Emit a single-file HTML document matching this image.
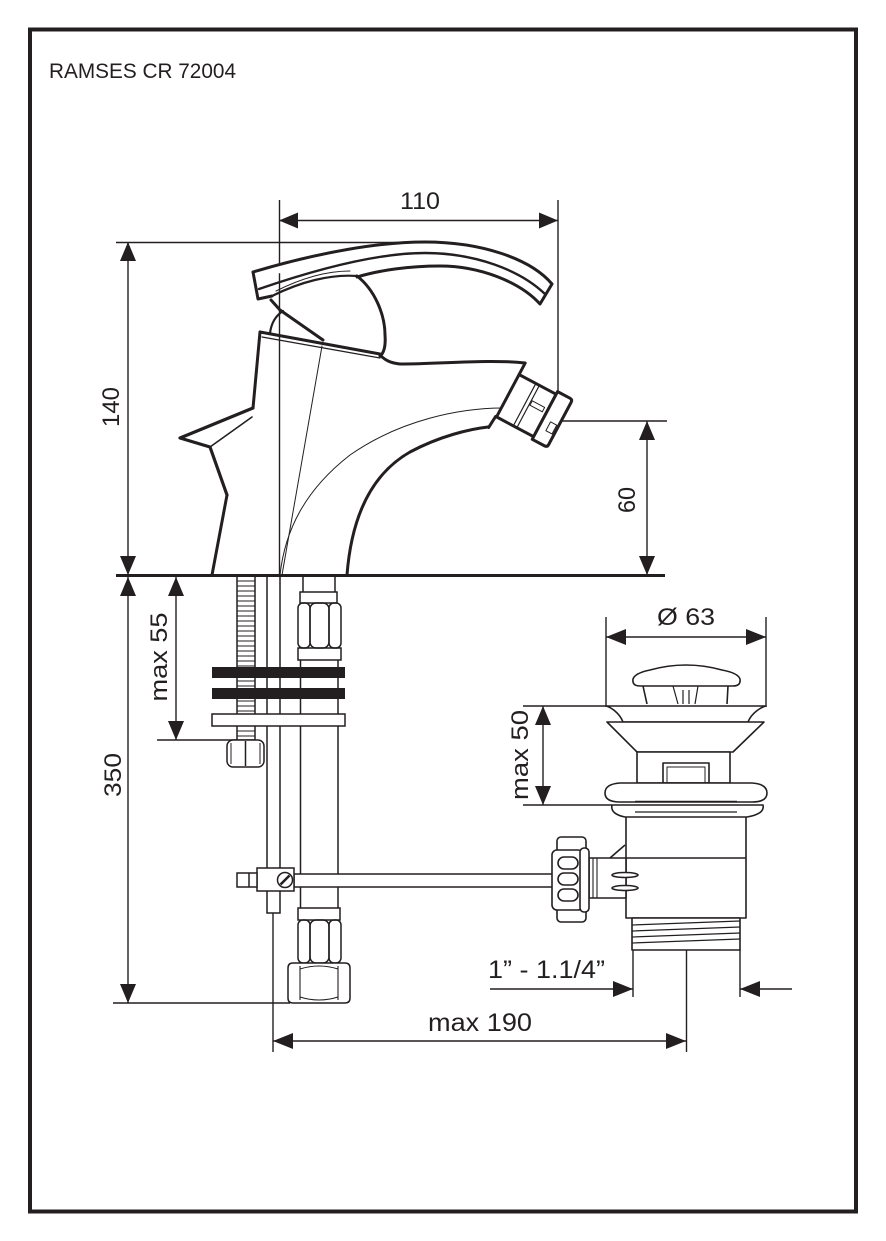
<!DOCTYPE html>
<html>
<head>
<meta charset="utf-8">
<style>
html,body{margin:0;padding:0;background:#fff;}
svg{display:block;}
text{font-family:"Liberation Sans",Arial,sans-serif;fill:#231f20;}
</style>
</head>
<body>
<svg width="886" height="1241" viewBox="0 0 886 1241" xmlns="http://www.w3.org/2000/svg">
<rect x="0" y="0" width="886" height="1241" fill="#fff"/>
<rect x="30" y="29.5" width="826" height="1182" fill="none" stroke="#231f20" stroke-width="4"/>
<text x="49" y="78" font-size="21" textLength="187" lengthAdjust="spacingAndGlyphs">RAMSES CR 72004</text>

<g stroke="#231f20" fill="none" stroke-width="1.4">
  <line x1="279.5" y1="200" x2="279.5" y2="575"/>
  <line x1="558" y1="200" x2="558" y2="421"/>
  <line x1="279" y1="220.5" x2="558" y2="220.5"/>
  <line x1="116" y1="242.5" x2="420" y2="242.5"/>
  <line x1="128" y1="242" x2="128" y2="575"/>
  <line x1="558" y1="421" x2="667" y2="421"/>
  <line x1="647" y1="421" x2="647" y2="575"/>
  <line x1="128" y1="576" x2="128" y2="1003"/>
  <line x1="113" y1="1003" x2="290" y2="1003"/>
  <line x1="176" y1="576" x2="176" y2="740"/>
  <line x1="157" y1="740" x2="237" y2="740"/>
  <line x1="606" y1="617" x2="606" y2="707"/>
  <line x1="766" y1="617" x2="766" y2="707"/>
  <line x1="606" y1="637" x2="766" y2="637"/>
  <line x1="523" y1="706" x2="606" y2="706"/>
  <line x1="523" y1="805" x2="612" y2="805"/>
  <line x1="543" y1="706" x2="543" y2="805"/>
  <line x1="633" y1="950" x2="633" y2="997"/>
  <line x1="740" y1="950" x2="740" y2="997"/>
  <line x1="490" y1="989" x2="633" y2="989"/>
  <line x1="740" y1="989" x2="792" y2="989"/>
  <line x1="273" y1="913" x2="273" y2="1052"/>
  <line x1="686.5" y1="950" x2="686.5" y2="1052"/>
  <line x1="273" y1="1041" x2="686" y2="1041"/>
</g>
<line x1="116" y1="575.5" x2="665" y2="575.5" stroke="#231f20" stroke-width="3"/>

<g fill="#231f20" stroke="none">
  <polygon points="279,220.5 298,212.5 298,228.5"/>
  <polygon points="558,220.5 539,212.5 539,228.5"/>
  <polygon points="128,242 120,261 136,261"/>
  <polygon points="128,575 120,556 136,556"/>
  <polygon points="647,421 639,440 655,440"/>
  <polygon points="647,575 639,556 655,556"/>
  <polygon points="128,577 120,596 136,596"/>
  <polygon points="128,1003 120,984 136,984"/>
  <polygon points="176,577 168,596 184,596"/>
  <polygon points="176,740 168,721 184,721"/>
  <polygon points="606,637 626,629 626,645"/>
  <polygon points="766,637 746,629 746,645"/>
  <polygon points="543,706 535,725 551,725"/>
  <polygon points="543,805 535,786 551,786"/>
  <polygon points="633,989 613,981 613,997"/>
  <polygon points="740,989 760,981 760,997"/>
  <polygon points="273,1041 293,1033 293,1049"/>
  <polygon points="686,1041 666,1033 666,1049"/>
</g>

<text x="420" y="209" font-size="24" text-anchor="middle" textLength="40" lengthAdjust="spacingAndGlyphs">110</text>
<text transform="translate(119,407) rotate(-90)" font-size="24" text-anchor="middle" textLength="40" lengthAdjust="spacingAndGlyphs">140</text>
<text transform="translate(635,500) rotate(-90)" font-size="24" text-anchor="middle" textLength="26" lengthAdjust="spacingAndGlyphs">60</text>
<text transform="translate(121,775) rotate(-90)" font-size="24" text-anchor="middle" textLength="44" lengthAdjust="spacingAndGlyphs">350</text>
<text transform="translate(167,657) rotate(-90)" font-size="24" text-anchor="middle" textLength="89" lengthAdjust="spacingAndGlyphs">max 55</text>
<text transform="translate(528,755) rotate(-90)" font-size="24" text-anchor="middle" textLength="90" lengthAdjust="spacingAndGlyphs">max 50</text>
<text x="686" y="625" font-size="24" text-anchor="middle" textLength="58" lengthAdjust="spacingAndGlyphs">Ø 63</text>
<text x="488" y="978" font-size="25" textLength="117" lengthAdjust="spacingAndGlyphs">1” - 1.1/4”</text>
<text x="480" y="1031" font-size="25" text-anchor="middle" textLength="104" lengthAdjust="spacingAndGlyphs">max 190</text>

<!-- FAUCET -->
<g stroke="#231f20" fill="none" stroke-linejoin="round" stroke-linecap="round">
  <path d="M253,272 C320,252 380,242 425,242 C480,242 530,258 552,284 L540,304 C520,282 480,266 440,266 C410,266 380,270 357,277" stroke-width="3" fill="#fff"/>
  <path d="M253,272 L258,299 L272,296" stroke-width="3"/>
  <path d="M259,289 C320,268 380,253 425,253 C475,253 520,270 545,294" stroke-width="2.4"/>
  <path d="M272,296 C300,282 330,274 357,276" stroke-width="2.2"/>
  <path d="M276,291 C300,279 325,271 350,271" stroke-width="1"/>
  <path d="M357,276 C375,290 385,315 385,335 C386,348 383,354 380,356" stroke-width="3"/>
  <path d="M271,300 L280,310 L323,340" stroke-width="3"/>
  <path d="M260,332 L380,354" stroke-width="3"/>
  <path d="M262,337 L380,358" stroke-width="1.2"/>
  <path d="M270,333 Q272,318 283,311" stroke-width="2.2"/>
  <path d="M380,355 C385,360 390,363 400,364 C440,364 490,359 525,363" stroke-width="3"/>
  <path d="M260,332 L253,408 M227,495 L212,575" stroke-width="3"/>
  <path d="M253,408 L180,438 L210,447 L227,495" stroke-width="3.2"/>
  <path d="M210,447 L252,417" stroke-width="1.6"/>
  <path d="M488,427 C470,429 440,436 410,452 C375,472 352,510 347,575" stroke-width="3"/>
  <path d="M503,408 C460,408 400,420 350,455 C305,490 285,530 280,575" stroke-width="1"/>
  <path d="M322,346 L282,575" stroke-width="1"/>
  <g transform="translate(533,408) rotate(28)">
    <path d="M-28,-36 L-28,-23 M-30,38 L-29,25" stroke-width="3"/>
    <path d="M-28,-23 L14,-23 L14,25 L-28,25 Z" stroke-width="3" fill="#fff"/>
    <path d="M14,-26 L28,-26 Q31,-26 31,-23 L31,25 Q31,28 28,28 L14,28 Z" stroke-width="3" fill="#fff"/>
    <line x1="-9" y1="-23" x2="-9" y2="25" stroke-width="1.2"/>
    <line x1="-5" y1="-23" x2="-5" y2="25" stroke-width="1.2"/>
    <rect x="-4" y="-6" width="14" height="5" stroke-width="1"/>
    <rect x="22" y="4" width="7" height="10" stroke-width="1"/>
  </g>
</g>

<!-- LOWER LEFT -->
<g stroke="#231f20" fill="none" stroke-width="1.5">
  <rect x="237" y="576" width="18" height="164"/>
  <path d="M237,581H255M237,586H255M237,591H255M237,596H255M237,601H255M237,606H255M237,611H255M237,616H255M237,621H255M237,626H255M237,631H255M237,636H255M237,641H255M237,646H255M237,651H255M237,656H255M237,661H255M237,666H255M237,671H255M237,676H255M237,681H255M237,686H255M237,691H255M237,696H255M237,701H255M237,706H255M237,711H255M237,716H255M237,721H255M237,726H255M237,731H255M237,736H255" stroke-width="1.1"/>
  <rect x="227" y="740" width="37" height="27" rx="6" fill="#fff"/>
  <line x1="245.5" y1="741" x2="245.5" y2="766"/>
  <line x1="231" y1="743" x2="231" y2="764" stroke-width="1"/>
  <line x1="260" y1="743" x2="260" y2="764" stroke-width="1"/>
  <path d="M267,576 L267,913 L280,913 L280,576"/>
  <line x1="303" y1="576" x2="303" y2="592"/>
  <line x1="335" y1="576" x2="335" y2="592"/>
  <rect x="300" y="592" width="37" height="11"/>
  <rect x="298" y="603" width="12" height="45" rx="5"/>
  <rect x="310" y="603" width="19" height="45" rx="6"/>
  <rect x="329" y="603" width="12" height="45" rx="5"/>
  <rect x="298" y="648" width="43" height="12"/>
  <line x1="300.5" y1="660" x2="300.5" y2="908"/>
  <line x1="338" y1="660" x2="338" y2="908"/>
  <rect x="298" y="908" width="42" height="12"/>
  <rect x="298" y="920" width="12" height="43" rx="5"/>
  <rect x="310" y="920" width="19" height="43" rx="6"/>
  <rect x="329" y="920" width="12" height="43" rx="5"/>
  <path d="M293,963 L345,963 Q350,963 350,968 L350,998 Q350,1003 345,1003 L293,1003 Q288,1003 288,998 L288,968 Q288,963 293,963 Z" fill="#fff"/>
  <path d="M300,966 L300,1000 M338,966 L338,1000 M300,969 Q319,963 338,969 M300,997 Q319,1003 338,997" stroke-width="1.1"/>
  <rect x="294" y="874" width="259" height="13" fill="#fff"/>
  <rect x="257" y="868" width="37" height="23" fill="#fff"/>
  <rect x="237" y="873" width="20" height="14" fill="#fff"/>
  <line x1="249" y1="873" x2="249" y2="887"/>
  <circle cx="285" cy="880" r="7.5" fill="#fff"/>
  <line x1="280.5" y1="884.5" x2="289.5" y2="875.5" stroke-width="2.6"/>
</g>
<rect x="212" y="667" width="133" height="11" fill="#231f20"/>
<rect x="212" y="688" width="133" height="11" fill="#231f20"/>
<rect x="212" y="714" width="133" height="12" fill="#fff" stroke="#231f20" stroke-width="1.5"/>

<!-- DRAIN -->
<g stroke="#231f20" fill="none" stroke-width="1.6" stroke-linejoin="round">
  <path d="M640,686 Q632,686 633,679 Q635,673 650,670 Q686,660 722,670 Q738,673 740,679 Q741,686 733,686 Z" fill="#fff"/>
  <path d="M643,686 L647,704 M728,686 L727,704"/>
  <path d="M673,686 L678,704 M698,686 L695,704 M683,690 L683,704 M689,690 L689,704" stroke-width="1.2"/>
  <path d="M606,706 L766,706 C762,707 752,712 748,722 L623,722 C619,712 610,707 606,706 Z" fill="#fff"/>
  <polygon points="607,722 764,722 733,752 637,752" fill="#fff"/>
  <rect x="637" y="752" width="93" height="31" fill="#fff"/>
  <rect x="663" y="763" width="46" height="20"/>
  <rect x="667" y="767" width="38" height="16" stroke-width="1"/>
  <path d="M620,783 L752,783 Q767,784 767,793 Q767,802 752,802 L620,802 Q605,802 605,793 Q605,784 620,783 Z" fill="#fff"/>
  <line x1="635" y1="801.5" x2="737" y2="801.5"/>
  <path d="M612,805 L763,805 Q765,814 747,817 L625,817 Q610,814 612,805 Z" fill="#fff"/>
  <line x1="635" y1="812" x2="737" y2="812" stroke-width="1.2"/>
  <path d="M626,817 L626,918 L746,918 L746,817"/>
  <line x1="626" y1="858" x2="746" y2="858"/>
  <rect x="632" y="918" width="108" height="32" fill="#fff"/>
  <path d="M632,925 L740,921 M632,931 L740,927 M632,937 L740,933 M632,943 L740,939" stroke-width="1.3"/>
  <line x1="610" y1="858" x2="625" y2="845"/>
  <rect x="589" y="858" width="37" height="40" fill="#fff"/>
  <line x1="593" y1="858" x2="593" y2="898" stroke-width="1.1"/>
  <line x1="597" y1="858" x2="597" y2="898" stroke-width="1.1"/>
  <ellipse cx="625" cy="875" rx="13" ry="2.5" fill="#fff"/>
  <ellipse cx="625" cy="888" rx="13" ry="2.5" fill="#fff"/>
  <rect x="557" y="837" width="29" height="85" rx="4" fill="#fff"/>
  <rect x="552" y="850" width="31" height="60" rx="5" fill="#fff"/>
  <rect x="580" y="848" width="9" height="64" rx="4" fill="#fff"/>
  <rect x="558" y="857" width="20" height="12" rx="6"/>
  <rect x="558" y="873" width="20" height="12" rx="6"/>
  <rect x="558" y="889" width="20" height="12" rx="6"/>
</g>
</svg>
</body>
</html>
